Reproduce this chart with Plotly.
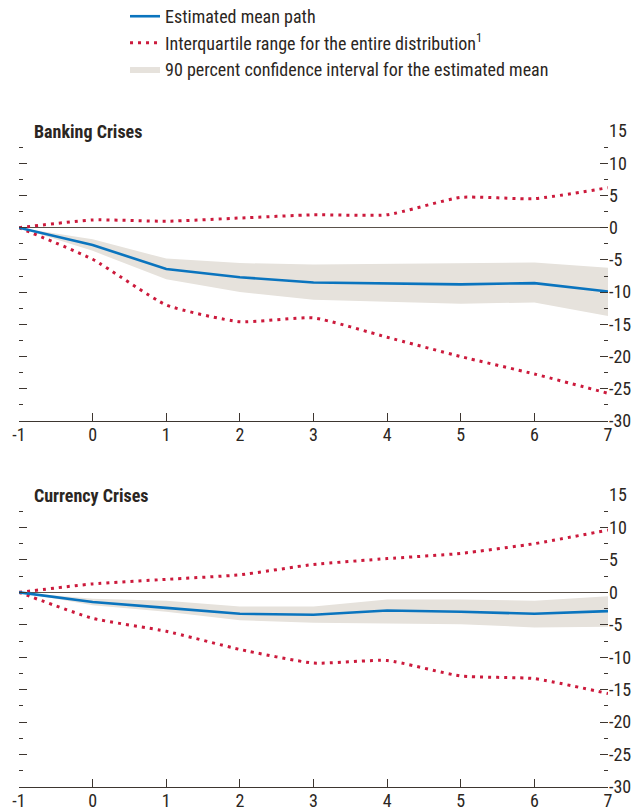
import plotly.graph_objects as go

# ---- data ----
years = [-1, 0, 1, 2, 3, 4, 5, 6, 7]
year_labels = ["-1", "0", "1", "2", "3", "4", "5", "6", "7"]

bank_mean = [0, -2.7, -6.4, -7.7, -8.5, -8.6, -8.8, -8.6, -9.9]
bank_ci_hi = [0, -1.8, -4.8, -5.5, -5.7, -5.6, -5.5, -5.4, -6.2]
bank_ci_lo = [0, -3.6, -8.0, -10.0, -11.2, -11.5, -11.8, -11.6, -13.7]
bank_iqr_hi = [0, 1.2, 1.0, 1.5, 2.0, 2.0, 4.7, 4.5, 6.2]
bank_iqr_lo = [0, -4.9, -12.0, -14.6, -14.0, -17.0, -20.0, -22.7, -25.7]

curr_mean = [0, -1.5, -2.4, -3.3, -3.45, -2.8, -3.0, -3.3, -2.9]
curr_ci_hi = [0, -1.0, -1.3, -2.2, -2.2, -1.1, -1.1, -1.3, -0.6]
curr_ci_lo = [0, -2.0, -3.0, -4.3, -4.7, -4.8, -4.9, -5.4, -5.3]
curr_iqr_hi = [0, 1.3, 2.0, 2.7, 4.3, 5.2, 6.0, 7.5, 9.6]
curr_iqr_lo = [0, -4.0, -6.0, -8.8, -10.9, -10.5, -12.9, -13.3, -15.6]

major_ticks = [-30, -25, -20, -15, -10, -5, 0, 5, 10, 15]
major_labels = ["-30", "-25", "-20", "-15", "-10", "-5", "0", "5", "10", "15"]
minor_ticks = [-27.5, -22.5, -17.5, -12.5, -7.5, -2.5, 2.5, 7.5, 12.5]
panel_titles = ["Banking Crises", "Currency Crises"]

# ---- style ----
FONT = "Roboto Condensed, Liberation Sans, sans-serif"
TXT = "#2b2622"
AX = "#3d3630"
BLUE = "#0a74be"
RED = "#cc1a3c"
BAND = "#e6e2dc"
DOTS = "3px,5px"

fig = go.Figure()

panels = [
    (bank_mean, bank_ci_hi, bank_ci_lo, bank_iqr_hi, bank_iqr_lo, "x", "y"),
    (curr_mean, curr_ci_hi, curr_ci_lo, curr_iqr_hi, curr_iqr_lo, "x2", "y2"),
]

for i, (m, chi, clo, qhi, qlo, xa, ya) in enumerate(panels):
    first = i == 0
    fig.add_trace(go.Scatter(x=years, y=chi, xaxis=xa, yaxis=ya, mode="lines",
                             line=dict(width=0, color=BAND), showlegend=False,
                             hoverinfo="skip"))
    fig.add_trace(go.Scatter(x=years, y=clo, xaxis=xa, yaxis=ya, mode="lines",
                             line=dict(width=0, color=BAND), fill="tonexty",
                             fillcolor=BAND, showlegend=first, legendrank=3,
                             name="90 percent confidence interval for the estimated mean"))
    fig.add_trace(go.Scatter(x=years, y=qhi, xaxis=xa, yaxis=ya, mode="lines",
                             line=dict(width=3, color=RED, dash=DOTS, shape="spline", smoothing=0.5),
                             showlegend=first, legendrank=2,
                             name="Interquartile range for the entire distribution<sup>1</sup>"))
    fig.add_trace(go.Scatter(x=years, y=qlo, xaxis=xa, yaxis=ya, mode="lines",
                             line=dict(width=3, color=RED, dash=DOTS, shape="spline", smoothing=0.5),
                             showlegend=False))
    fig.add_trace(go.Scatter(x=years, y=m, xaxis=xa, yaxis=ya, mode="lines",
                             line=dict(width=2.6, color=BLUE),
                             showlegend=first, legendrank=1, name="Estimated mean path"))

# invisible traces to anchor the left-side tick axes
fig.add_trace(go.Scatter(x=[years[0]], y=[0], xaxis="x", yaxis="y3", mode="markers",
                         marker=dict(opacity=0), showlegend=False, hoverinfo="skip"))
fig.add_trace(go.Scatter(x=[years[0]], y=[0], xaxis="x2", yaxis="y4", mode="markers",
                         marker=dict(opacity=0), showlegend=False, hoverinfo="skip"))

top_dom = [0.5579, 1.0]
bot_dom = [0.0, 0.4451]

def xax(anchor):
    return dict(domain=[0, 1], anchor=anchor, range=[-1, 7], tickvals=years,
                ticktext=year_labels, ticklabelstandoff=-3,
                ticks="inside", ticklen=8, tickwidth=1.3, tickcolor=AX,
                showline=True, linecolor=AX, linewidth=1.3, showgrid=False,
                zeroline=False, automargin=False,
                tickfont=dict(family=FONT, size=18, color=TXT))

def yright(dom, anchor):
    return dict(domain=dom, anchor=anchor, side="right", range=[-30, 15],
                tickvals=major_ticks, ticktext=major_labels,
                ticks="inside", ticklen=8, tickwidth=1.3,
                tickcolor=AX, showline=False, showgrid=False,
                zeroline=True, zerolinecolor="#5a524b", zerolinewidth=1.3,
                minor=dict(tickvals=minor_ticks, ticks="inside", ticklen=4,
                           tickwidth=1.3, tickcolor=AX),
                automargin=False,
                tickfont=dict(family=FONT, size=18, color=TXT))

def yleft(over, anchor):
    return dict(overlaying=over, anchor=anchor, side="left", range=[-30, 15],
                tickvals=major_ticks, ticks="inside", ticklen=8, tickwidth=1.3,
                tickcolor=AX, showline=False, showgrid=False, zeroline=False,
                showticklabels=False,
                minor=dict(tickvals=minor_ticks, ticks="inside", ticklen=4,
                           tickwidth=1.3, tickcolor=AX),
                automargin=False)

# the page body adds an 8px offset, so the figure is sized to the remaining window
fig.update_layout(
    width=634, height=800,
    margin=dict(l=11, r=34, t=123, b=21, autoexpand=False),
    paper_bgcolor="white", plot_bgcolor="white",
    font=dict(family=FONT, size=18, color=TXT),
    xaxis=xax("y"), xaxis2=xax("y2"),
    yaxis=yright(top_dom, "x"), yaxis2=yright(bot_dom, "x2"),
    yaxis3=yleft("y", "x"), yaxis4=yleft("y2", "x2"),
    showlegend=True,
    legend=dict(x=0.180, y=1.2027, xanchor="left", yanchor="top",
                font=dict(family=FONT, size=18, color=TXT),
                bgcolor="rgba(0,0,0,0)", traceorder="normal", tracegroupgap=0),
)

for title, xr, ya in zip(panel_titles, ["x domain", "x2 domain"], ["y", "y2"]):
    fig.add_annotation(text="<b>" + title + "</b>", xref=xr,
                       yref=ya, x=0.022, y=15, xanchor="left", yanchor="middle",
                       showarrow=False, font=dict(family=FONT, size=18, color=TXT))

fig.write_html("out.html")
